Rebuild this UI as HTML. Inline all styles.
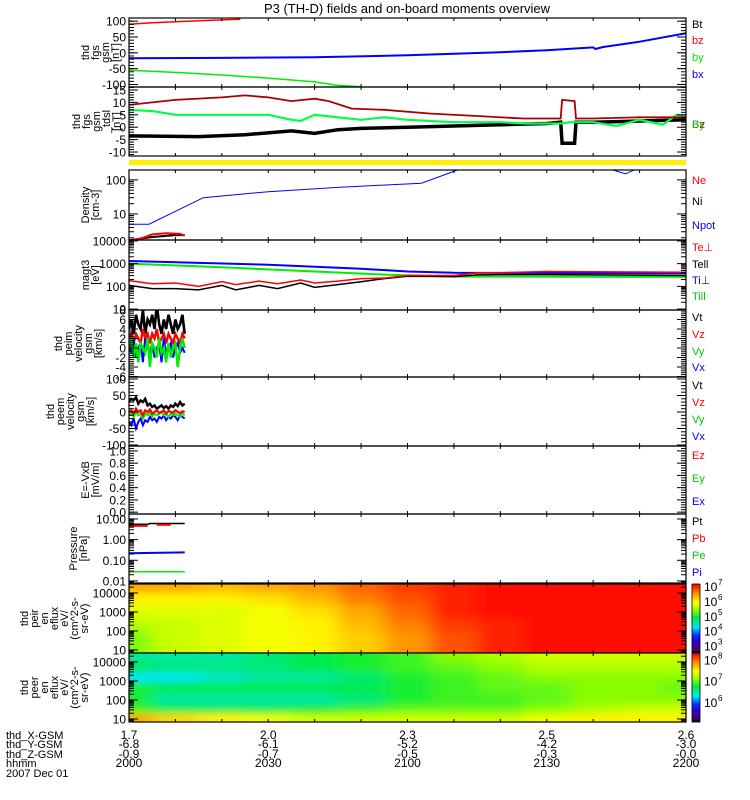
<!DOCTYPE html>
<html><head><meta charset="utf-8"><style>
html,body{margin:0;padding:0;background:#fff;}
svg{display:block;font-family:"Liberation Sans","DejaVu Sans",sans-serif;}
</style></head><body>
<svg id="chart" width="750" height="800" viewBox="0 0 750 800" xmlns="http://www.w3.org/2000/svg">
<defs><filter id="blur" x="0" y="0" width="1" height="1"><feGaussianBlur stdDeviation="9 4"/></filter></defs>
<text x="407" y="13" font-size="13" text-anchor="middle">P3 (TH-D) fields and on-board moments overview</text>
</svg>
<script>
// ---------- data ----------
const fgsT_bz=[0,5,10,15,20,24];
const fgsV_bz=[90,95,98,101,104,106];
const fgsT_bx=[0,20,40,60,80,90,100,100.5,102,110,120];
const fgsV_bx=[-17,-16,-14,-8,2,8,17,12,18,35,62];
const fgsT_by=[0,10,20,30,40,45,50];
const fgsV_by=[-55,-62,-70,-80,-92,-103,-107];

const dslT_bz=[0,10,20,25,30,35,40,43,48,55,65,75,85,93,93.3,96,96.3,100,110,120];
const dslV_bz=[9,11,12,12.8,12,10.5,11.5,10.5,7.5,7,5.5,4.5,3.5,3.5,11,10.5,3.5,3.5,4,4];
const dslT_by=[0,5,10,20,30,35,37,40,45,50,55,60,70,80,85,93,95,100,105,110,115,118,120];
const dslV_by=[7,6.5,5,5,5,3,2.5,5,4,3,4,3,2,2,1.5,1.5,2,2,0.5,3,1,5,4];
const dslT_bx=[0,15,25,35,40,45,50,60,70,80,90,93,93.3,96,96.3,100,110,120];
const dslV_bx=[-3.5,-3.8,-3,-1.5,-2.5,-1,-0.5,0,0.5,1,1.5,2,-6.5,-6.5,2,2,2.5,3];

const denT_npot=[0,4.3,16,30,45,63,71,104,107,109,120];
const denV_npot=[5,5,30,45,60,80,200,200,150,200,200];
const denT_ne=[0,3,5,8,11,12];
const denV_ne=[1.6,2,2.5,2.7,2.6,2.3];
const denT_ni=[0,5,10,12];
const denV_ni=[1.7,2.1,2.4,2.4];

const tmpT_tip=[0,30,50,60,70,120];
const tmpV_tip=[1300,900,600,450,400,380];
const tmpT_tii=[0,20,40,55,70,120];
const tmpV_tii=[1000,700,450,330,270,260];
const tmpT_te=[0,5,10,15,20,23,28,32,37,40,45,50,55,60,70,75,80,90,120];
const tmpV_tep=[180,130,140,100,160,120,170,130,190,140,170,220,230,300,300,400,400,450,420];
const tmpV_tee=[110,80,80,70,110,70,110,80,140,90,120,160,220,280,270,320,330,330,300];

const velT=[0,0.5,1,1.5,2,2.5,3,3.5,4,4.5,5,5.5,6,6.5,7,7.5,8,8.5,9,9.5,10,10.5,11,11.5,12];
const peimVt=[4,6,3,7,5,4,8,3,6,5,7,4,9,5,3,6,4,7,5,3,6,4,5,7,3];
const peimVz=[2,3,1,3,2,1,4,2,3,1,3,2,4,1,2,3,1,3,2,1,3,2,1,3,2];
const peimVy=[0,2,-2,1,-3,1,0,-1,2,-4,1,0,-2,2,-1,0,-3,1,-2,0,1,-4,0,2,0];
const peimVx=[1,-1,2,-2,0,1,-3,2,0,-1,1,-2,0,1,-3,2,-1,0,1,-2,0,1,-1,0,-1];
const peemVt=[30,40,35,45,25,35,30,40,20,25,15,20,10,15,20,12,18,10,20,15,25,18,30,20,25];
const peemVz=[0,5,-5,10,0,5,-10,5,0,8,-5,0,5,-3,0,5,-5,3,0,-2,5,0,-3,2,0];
const peemVy=[-10,-5,-15,0,-10,-5,-20,-5,-10,0,-15,-5,-10,-5,0,-10,-5,-15,-5,-10,-5,-10,-15,-5,-10];
const peemVx=[-30,-40,-20,-50,-30,-20,-40,-25,-30,-15,-25,-20,-30,-15,-20,-10,-25,-15,-20,-10,-15,-25,-10,-15,-20];

const prT_pt=[0,4,4.5,12];
const prV_pt=[5.5,5.5,6,6];
const prT_pb1=[0,4]; const prV_pb1=[4.6,4.6];
const prT_pb2=[6,9]; const prV_pb2=[5.2,5.2];
const prT_pi=[0,12]; const prV_pi=[0.22,0.24];
const prT_pe=[0,12]; const prV_pe=[0.028,0.028];

const specT=[0,10,20,30,40,50,60,70,80,90,100,110,120];
const ionE=[20000,5000,1000,200,50,12];
const ionFlux=[
[6.4,6.4,6.3,6.4,6.5,6.7,6.9,7.0,7.1,7.1,7.1,7.1,7.1],
[6.0,6.0,6.0,6.1,6.3,6.6,6.8,7.0,7.1,7.1,7.1,7.1,7.1],
[5.8,5.8,5.8,5.9,6.1,6.4,6.7,7.0,7.1,7.1,7.1,7.1,7.1],
[5.6,5.7,5.8,5.9,6.0,6.3,6.6,6.9,7.0,7.1,7.1,7.1,7.1],
[5.4,5.7,5.8,5.9,6.0,6.2,6.5,6.8,7.0,7.1,7.1,7.1,7.1],
[5.4,5.7,5.8,5.9,6.0,6.2,6.5,6.8,7.0,7.1,7.1,7.1,7.1]];
const eleE=[20000,5000,1500,500,100,30,12];
const eleFlux=[
[6.5,6.5,6.5,6.6,6.7,6.8,6.9,7.1,7.2,7.3,7.3,7.3,7.3],
[6.7,6.6,6.6,6.6,6.7,6.8,6.9,7.0,7.1,7.2,7.2,7.2,7.2],
[6.3,6.3,6.4,6.5,6.5,6.6,6.8,6.9,7.0,7.1,7.1,7.1,7.1],
[6.8,6.7,6.7,6.7,6.7,6.7,6.8,6.9,7.0,7.0,7.1,7.1,7.0],
[6.8,6.5,6.5,6.5,6.5,6.6,6.8,6.9,6.9,7.0,7.1,7.1,7.1],
[6.9,6.7,6.7,6.7,6.8,6.9,7.0,7.0,7.0,7.1,7.2,7.3,7.3],
[7.8,7.6,7.5,7.4,7.3,7.3,7.3,7.3,7.3,7.4,7.5,7.5,7.5]];

const ticks_fgs=[100,50,0,-50,-100];
const ticks_dsl=[15,10,5,0,-5,-10];
const ticks_den=[100,10];
const ticks_tmp=[10000,1000,100,10];
const ticks_peim=[8,6,4,2,0,-2,-4,-6];
const ticks_peem=[100,50,0,-50,-100];
const ticks_e=[1.0,0.8,0.6,0.4,0.2,0.0];
const ticks_pr=[10,1,0.1,0.01];
const ticks_spec=[10000,1000,100,10];
const xTickMin=[0,10,20,30,40,50,60,70,80,90,100,110,120];
const xLab_t=[0,30,60,90,120];
const xLab_X=["1.7","2.0","2.3","2.5","2.6"];
const xLab_Y=["-6.8","-6.1","-5.2","-4.2","-3.0"];
const xLab_Z=["-0.9","-0.7","-0.5","-0.3","-0.0"];
const xLab_H=["2000","2030","2100","2130","2200"];

// ---------- drawing ----------
const NS='http://www.w3.org/2000/svg';
const svg=document.getElementById('chart');
const X0=129,X1=686;
function xs(t){return X0+t/120*(X1-X0);}
function mk(tag,attrs,parent){const e=document.createElementNS(NS,tag);for(const k in attrs)e.setAttribute(k,attrs[k]);(parent||svg).appendChild(e);return e;}
function ysFn(p){return v=>{const u=p.log?Math.log10(v):v;return p.y1-(u-p.lo)/(p.hi-p.lo)*(p.y1-p.y0);};}

const panels={
 fgs:{y0:18,y1:87,lo:-108,hi:110,log:false},
 dsl:{y0:87,y1:156,lo:-11.6,hi:16.2,log:false},
 den:{y0:170,y1:240,lo:0.235,hi:2.29,log:true},
 tmp:{y0:240,y1:310,lo:0.96,hi:4.04,log:true},
 peim:{y0:310,y1:377,lo:-6.1,hi:8,log:false},
 peem:{y0:377,y1:446,lo:-103,hi:106,log:false},
 e:{y0:446,y1:514,lo:-0.03,hi:1.08,log:false},
 pr:{y0:514,y1:583,lo:-2.1,hi:1.24,log:true},
 ion:{y0:584,y1:653,lo:0.84,hi:4.47,log:true},
 ele:{y0:653,y1:722,lo:0.84,hi:4.47,log:true}
};
let clipN=0;
function clipFor(p){clipN++;const c=mk('clipPath',{id:'c'+clipN},svg.querySelector('defs'));mk('rect',{x:X0,y:p.y0,width:X1-X0,height:p.y1-p.y0},c);return 'url(#c'+clipN+')';}
function series(p,ts,vs,color,w,name){
  const ys=ysFn(p);
  const d=ts.map((t,i)=>(i?'L':'M')+xs(t).toFixed(1)+' '+ys(vs[i]).toFixed(1)).join(' ');
  const e=mk('path',{d:d,fill:'none',stroke:color,'stroke-width':w,'clip-path':clipFor(p)});
  
  
}
function yAxis(p,ticks,fmt,name){
  const ys=ysFn(p);
  const g=mk('g',{});
  
  
  ticks.forEach(v=>{
    const y=ys(v);
    mk('line',{x1:X0,x2:X0+9,y1:y,y2:y,stroke:'#000'},g);
    mk('line',{x1:X1-9,x2:X1,y1:y,y2:y,stroke:'#000'},g);
    const t=mk('text',{x:X0-3,y:y+4.5,'font-size':12,'text-anchor':'end'},g);
    t.textContent=fmt(v);
  });
  if(p.log){
    for(let d=Math.floor(p.lo);d<=Math.ceil(p.hi);d++)for(let m=2;m<=9;m++){
      const u=d+Math.log10(m);if(u<p.lo||u>p.hi)continue;const y=ysFn({...p,log:false})(u);
      mk('line',{x1:X0,x2:X0+5,y1:y,y2:y,stroke:'#000'},g);mk('line',{x1:X1-5,x2:X1,y1:y,y2:y,stroke:'#000'},g);}
  } else if(ticks.length>1){
    const st=(ticks[0]-ticks[1])/5;
    for(let v=ticks[ticks.length-1]-st*5;v<=ticks[0]+st*5;v+=st){
      if(v<p.lo||v>p.hi)continue;const y=ys(v);
      mk('line',{x1:X0,x2:X0+5,y1:y,y2:y,stroke:'#000'},g);mk('line',{x1:X1-5,x2:X1,y1:y,y2:y,stroke:'#000'},g);}
  }
}
function frame(p,name){
  const r=mk('rect',{x:X0,y:p.y0,width:X1-X0,height:p.y1-p.y0,fill:'none',stroke:'#000','stroke-width':1.2});
  
  
  xTickMin.forEach(t=>{const x=xs(t);mk('line',{x1:x,x2:x,y1:p.y0,y2:p.y0+3,stroke:'#000'});mk('line',{x1:x,x2:x,y1:p.y1-3,y2:p.y1,stroke:'#000'});});
}
function ylabel(p,lines,name,cx){
  const cy=(p.y0+p.y1)/2;
  const g=mk('g',{transform:`translate(${cx},${cy}) rotate(-90)`});
  
  
  lines.forEach((l,i)=>{const t=mk('text',{x:0,y:(i-(lines.length-1)/2)*10+4,'font-size':11,'text-anchor':'middle'},g);t.textContent=l;});
}
function legend(items,name){
  items.forEach(it=>{const t=mk('text',{x:692,y:it[2],'font-size':11,fill:it[1]});t.textContent=it[0];
    
    });
}
const fInt=v=>String(v);
const f1=v=>v.toFixed(1);
const f2=v=>v.toFixed(2);

let P=panels.fgs;
series(P,fgsT_bz,fgsV_bz,'#ff0000',1.5,'bz-line');
series(P,fgsT_by,fgsV_by,'#00ee00',1.5,'by-line');
series(P,fgsT_bx,fgsV_bx,'#0000ff',2,'bx-line');
frame(P,'fgs-gsm-panel');yAxis(P,ticks_fgs,fInt,'fgs-y-axis');ylabel(P,['thd','fgs','gsm','[nT]'],'fgs-y-title',100);
legend([['Bt','#000',28],['bz','#ff0000',44],['by','#00ee00',61],['bx','#0000ff',78]],'fgs-legend');
P=panels.dsl;
series(P,dslT_bx,dslV_bx,'#000',3.5,'dsl-bx-line');
series(P,dslT_by,dslV_by,'#00ff44',2.2,'dsl-by-line');
series(P,dslT_bz,dslV_bz,'#aa0000',1.8,'dsl-bz-line');
frame(P,'fgs-tdsl-panel');yAxis(P,ticks_dsl,fInt,'dsl-y-axis');ylabel(P,['thd','fgs','gsm','_tdsl','[nT]'],'dsl-y-title',96);
legend([['Bz','#aa0000',128],['By','#00cc00',128]],'dsl-legend');
const yb=mk('rect',{x:X0,y:160,width:X1-X0,height:5,fill:'#ffee00'});


mk('line',{x1:X0,x2:X1,y1:170,y2:170,stroke:'#000'});
P=panels.den;
series(P,denT_npot,denV_npot,'#0000ff',1,'npot-line');
series(P,denT_ni,denV_ni,'#000',2,'ni-line');
series(P,denT_ne,denV_ne,'#ff0000',2,'ne-line');
frame(P,'density-panel');yAxis(P,ticks_den,fInt,'density-y-axis');ylabel(P,['Density','[cm-3]'],'density-y-title',90);
legend([['Ne','#ff0000',184],['Ni','#000',205],['Npot','#0000ff',229]],'density-legend');
P=panels.tmp;
series(P,tmpT_tii,tmpV_tii,'#00ee00',2,'ti-par-line');
series(P,tmpT_tip,tmpV_tip,'#0000ff',2,'ti-perp-line');
series(P,tmpT_te,tmpV_tee,'#000',1.5,'te-par-line');
series(P,tmpT_te,tmpV_tep,'#ff0000',1.5,'te-perp-line');
frame(P,'temperature-panel');yAxis(P,ticks_tmp,fInt,'temperature-y-axis');ylabel(P,['magt3','[eV]'],'temperature-y-title',90);
legend([['Te⊥','#ff0000',251],['Tell','#000',268],['Ti⊥','#0000ff',284],['Till','#00cc00',300]],'temperature-legend');
P=panels.peim;
series(P,velT,peimVt,'#000',2.6,'peim-vt-line');
series(P,velT,peimVz,'#ff0000',2.4,'peim-vz-line');
series(P,velT,peimVx,'#0000ff',2,'peim-vx-line');
series(P,velT,peimVy,'#00ee00',2.4,'peim-vy-line');
frame(P,'peim-velocity-panel');yAxis(P,ticks_peim,fInt,'peim-y-axis');ylabel(P,['thd','peim','velocity','gsm','[km/s]'],'peim-y-title',78);
legend([['Vt','#000',321],['Vz','#ff0000',338],['Vy','#00cc00',355],['Vx','#0000ff',371]],'peim-legend');
P=panels.peem;
series(P,velT,peemVt,'#000',2.4,'peem-vt-line');
series(P,velT,peemVx,'#0000ff',2,'peem-vx-line');
series(P,velT,peemVy,'#00ee00',2,'peem-vy-line');
series(P,velT,peemVz,'#ff0000',2.2,'peem-vz-line');
frame(P,'peem-velocity-panel');yAxis(P,ticks_peem,fInt,'peem-y-axis');ylabel(P,['thd','peem','velocity','gsm','[km/s]'],'peem-y-title',70);
legend([['Vt','#000',389],['Vz','#ff0000',406],['Vy','#00cc00',423],['Vx','#0000ff',440]],'peem-legend');
P=panels.e;
frame(P,'efield-panel');yAxis(P,ticks_e,f1,'efield-y-axis');ylabel(P,['E=-VxB','[mV/m]'],'efield-y-title',90);
legend([['Ez','#ff0000',459],['Ey','#00cc00',482],['Ex','#0000ff',505]],'efield-legend');
P=panels.pr;
series(P,prT_pt,prV_pt,'#000',1.5,'pt-line');
series(P,prT_pb1,prV_pb1,'#ff0000',2,'pb-line-1');
series(P,prT_pb2,prV_pb2,'#ff0000',2,'pb-line-2');
series(P,prT_pi,prV_pi,'#0000ff',2,'pi-line');
series(P,prT_pe,prV_pe,'#00ee00',1.5,'pe-line');
frame(P,'pressure-panel');yAxis(P,ticks_pr,f2,'pressure-y-axis');ylabel(P,['Pressure','[nPa]'],'pressure-y-title',78);
legend([['Pt','#000',525],['Pb','#ff0000',542],['Pe','#00cc00',559],['Pi','#0000ff',576]],'pressure-legend');

const cmStops=[[0,[0,0,0]],[0.06,[80,0,110]],[0.18,[40,0,220]],[0.27,[0,60,255]],[0.38,[0,230,255]],[0.52,[0,235,60]],[0.64,[150,255,0]],[0.74,[255,255,0]],[0.86,[255,150,0]],[1,[255,0,0]]];
function cmap(n){n=Math.max(0,Math.min(1,n));for(let i=1;i<cmStops.length;i++){if(n<=cmStops[i][0]){const a=cmStops[i-1],b=cmStops[i],f=(n-a[0])/(b[0]-a[0]);return 'rgb('+a[1].map((c,k)=>Math.round(c+(b[1][k]-c)*f)).join(',')+')';}}return 'rgb(255,0,0)';}
function spectro(p,E,F,zlo,zhi,name){
  const ys=ysFn(p);const g=mk('g',{filter:'url(#blur)','clip-path':clipFor(p)});
  
  
  const le=E.map(e=>Math.log10(e));
  for(let r=0;r<E.length;r++){
    const top=r===0?p.y0-20:ys(Math.pow(10,(le[r]+le[r-1])/2));
    const bot=r===E.length-1?p.y1+20:ys(Math.pow(10,(le[r]+le[r+1])/2));
    for(let c=0;c<specT.length;c++){
      const l=c===0?X0-30:xs((specT[c]+specT[c-1])/2);
      const rr=c===specT.length-1?X1+30:xs((specT[c]+specT[c+1])/2);
      const cell=mk('rect',{x:l,y:top,width:rr-l+0.5,height:bot-top+0.5,fill:cmap((F[r][c]-zlo)/(zhi-zlo))},g);
      
      
    }
  }
}
function cbar(y0,y1,zlo,zhi,labs,name){
  const g=mk('g',{});
  
  
  for(let y=y0;y<y1;y++){mk('rect',{x:692,y:y,width:8,height:1.2,fill:cmap(1-(y-y0)/(y1-y0))},g);}
  mk('rect',{x:692,y:y0,width:8,height:y1-y0,fill:'none',stroke:'#000','stroke-width':0.8},g);
  labs.forEach(L=>{const y=y1-(L-zlo)/(zhi-zlo)*(y1-y0);const t=mk('text',{x:704,y:y+5,'font-size':12},g);t.textContent='10';const s=mk('text',{x:718,y:y-1,'font-size':8},g);s.textContent=String(L);});
}
P=panels.ion;
spectro(P,ionE,ionFlux,2.5,7.15,'ion-spectrogram');
frame(P,'ion-spectrogram-panel');yAxis(P,ticks_spec,fInt,'ion-y-axis');ylabel(P,['thd','peir','en','eflux','eV/','(cm^2-s-','sr-eV)'],'ion-y-title',54);
cbar(584,653,2.5,7.15,[7,6,5,4,3],'ion-colorbar');
P=panels.ele;
spectro(P,eleE,eleFlux,5.05,8.3,'electron-spectrogram');
frame(P,'electron-spectrogram-panel');yAxis(P,ticks_spec,fInt,'electron-y-axis');ylabel(P,['thd','peer','en','eflux','eV/','(cm^2-s-','sr-eV)'],'electron-y-title',54);
cbar(653,722,5.05,8.3,[8,7,6],'electron-colorbar');

const rowsY=[739,748,758,767];
const rowNames=['thd_X-GSM','thd_Y-GSM','thd_Z-GSM','hhmm'];
const rowVals=[xLab_X,xLab_Y,xLab_Z,xLab_H];
rowNames.forEach((n,i)=>{const t=mk('text',{x:6,y:rowsY[i],'font-size':11});t.textContent=n;
  
  
  xLab_t.forEach((tt,j)=>{const v=mk('text',{x:xs(tt),y:rowsY[i],'font-size':12,'text-anchor':'middle'});v.textContent=rowVals[i][j];
    
    });
});
const dt=mk('text',{x:6,y:777,'font-size':11});dt.textContent='2007 Dec 01';


</script>
</body></html>
